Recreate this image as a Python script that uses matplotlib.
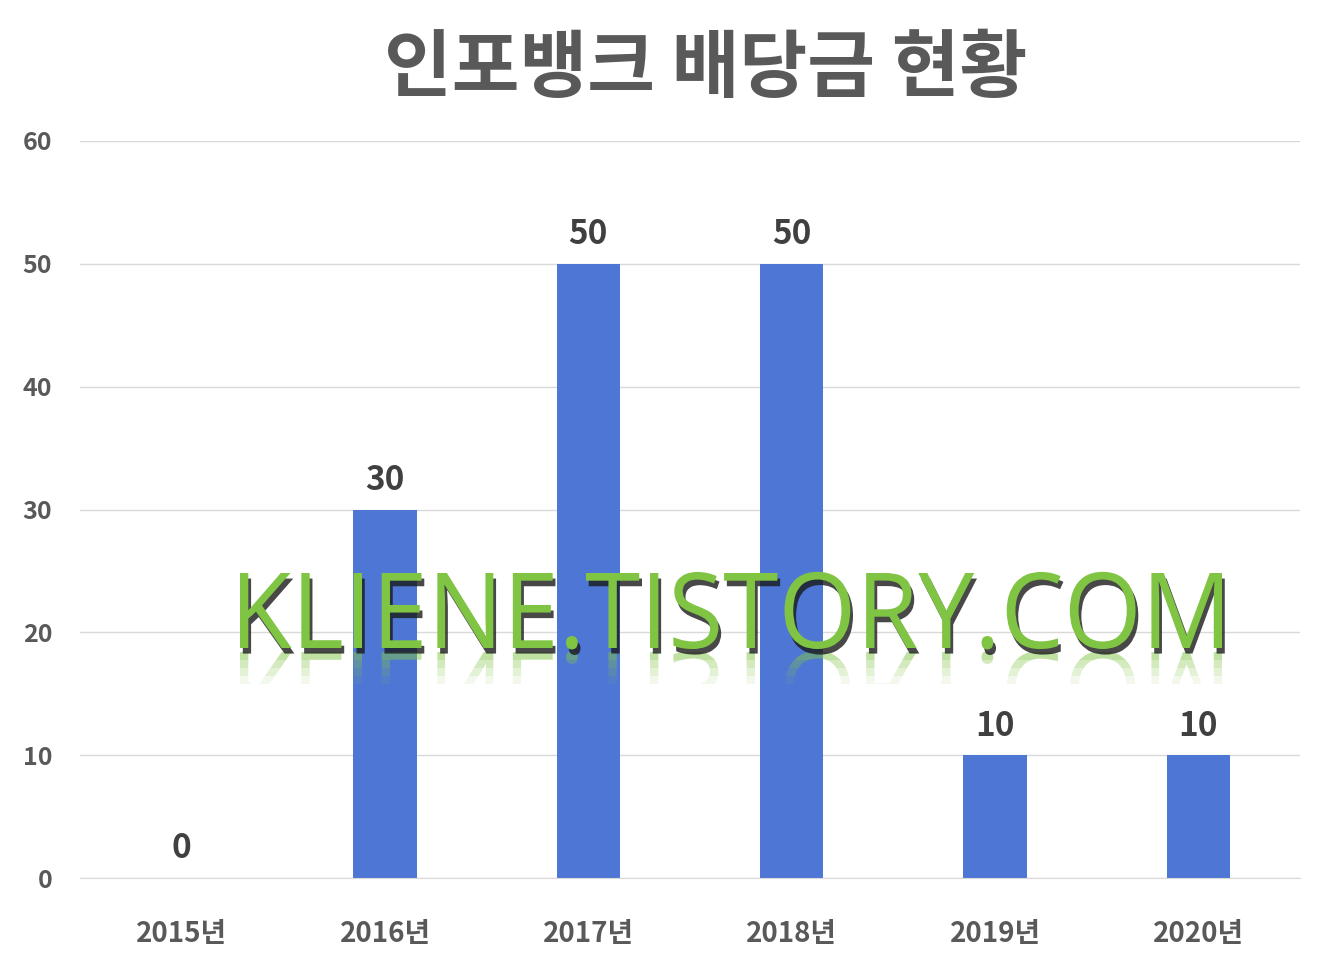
import matplotlib
matplotlib.use("Agg")
import matplotlib.pyplot as plt
import matplotlib.patheffects as pe
from matplotlib.textpath import TextPath
from matplotlib.patches import PathPatch, Rectangle
from matplotlib.font_manager import FontProperties
from matplotlib.transforms import Affine2D, IdentityTransform

plt.rcParams['font.family'] = ['Noto Sans CJK KR', 'DejaVu Sans']

# data
years = ['2015년', '2016년', '2017년', '2018년', '2019년', '2020년']
dividends = [0, 30, 50, 50, 10, 10]
title = '인포뱅크 배당금 현황'
watermark = 'KLIENE.TISTORY.COM'

text_color = '#595959'
bar_color = '#4E76D5'

fig = plt.figure(figsize=(13.35, 9.76), dpi=100)
ax = fig.add_axes([80/1335, 1-878/976, 1220/1335, 737/976])

bars = ax.bar(range(len(years)), dividends, width=0.31, color=bar_color, zorder=2)
ax.bar_label(bars, labels=[str(v) for v in dividends], padding=9,
             fontsize=24, fontweight='bold', color='#404040')

ax.set_xlim(-0.5, len(years) - 0.5)
ax.set_ylim(0, 60)
ax.set_yticks(range(0, 61, 10))
ax.set_xticks(range(len(years)))
ax.set_xticklabels(years)
ax.grid(axis='y', color='#D9D9D9', lw=1, zorder=0)
for s in ['top', 'left', 'right']:
    ax.spines[s].set_visible(False)
ax.spines['bottom'].set_color('#D9D9D9')
ax.tick_params(length=0, colors=text_color)
ax.tick_params(axis='y', pad=20, labelsize=18)
ax.tick_params(axis='x', pad=30, labelsize=20)
for lab in ax.get_xticklabels() + ax.get_yticklabels():
    lab.set_fontweight('bold')

fig.text(706/1335, 1-70/976, title, ha='center', va='center',
         fontsize=53, fontweight='heavy', color=text_color)

# watermark drawn as a path, stretched to the reference size (display pixels)
tp = TextPath((0, 0), watermark, size=1, prop=FontProperties(family='Open Sans'))
ext = tp.get_extents()
capH = TextPath((0, 0), 'K', size=1, prop=FontProperties(family='Open Sans')).get_extents().y1
x0, x1, base, cap = 240, 1222, 976-648, 75
sx = (x1 - x0) / ext.width
sy = cap / capH
tr = Affine2D().translate(-ext.x0, 0).scale(sx, sy).translate(x0, base)
patch = PathPatch(tr.transform_path(tp), facecolor='#80C444', edgecolor='none',
                  transform=IdentityTransform(), zorder=10,
                  path_effects=[pe.SimplePatchShadow(offset=(2, -4), shadow_rgbFace='#1a1a1a', alpha=0.8),
                                pe.Normal()])
fig.add_artist(patch)

# faded reflection below the baseline
for i, a in enumerate([0.5, 0.35, 0.22, 0.1]):
    trr = Affine2D().translate(-ext.x0, 0).scale(sx, -sy).translate(x0, base - 4)
    refl = PathPatch(trr.transform_path(tp), facecolor='#80C444', edgecolor='none',
                     alpha=a, transform=IdentityTransform(), zorder=9)
    clip = Rectangle((0, base - 4 - 8*(i+1)), 1335, 8, transform=IdentityTransform())
    refl.set_clip_path(clip)
    fig.add_artist(refl)

fig.savefig('out.png', dpi=100)
